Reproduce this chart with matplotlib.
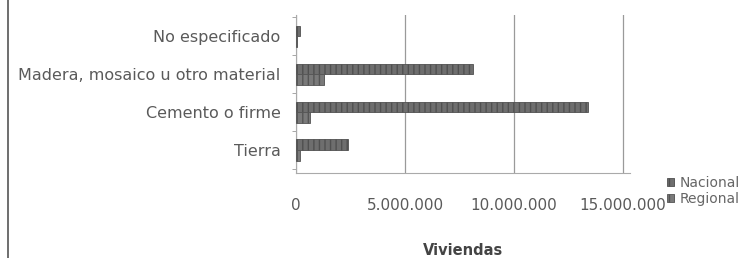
import matplotlib
matplotlib.use("Agg")
import matplotlib.pyplot as plt
import numpy as np

categories = ["Tierra", "Cemento o firme", "Madera, mosaico u otro material", "No especificado"]
nacional = [2400000, 13400000, 8100000, 200000]
regional = [200000, 650000, 1300000, 60000]
xticks = [0, 5000000, 10000000, 15000000]
xtick_labels = ["0", "5.000.000", "10.000.000", "15.000.000"]

plt.rcParams['font.family'] = ['DejaVu Sans']

fig = plt.figure(figsize=(7.55, 2.58), dpi=100)
ax = fig.add_axes([0.392, 0.33, 0.442, 0.61])

y = np.arange(len(categories))
h = 0.28
ax.barh(y + h / 2, nacional, height=h, color='#6e6e6e', edgecolor='#505050',
        hatch='|||', linewidth=0.6, label='Nacional', zorder=3)
ax.barh(y - h / 2, regional, height=h, color='#7a7a7a', edgecolor='#555555',
        hatch='|||', linewidth=0.6, label='Regional', zorder=3)

ax.set_xlim(0, 15300000)
ax.set_ylim(-0.6, 3.55)
ax.set_yticks(y)
ax.set_yticklabels(categories, fontsize=11.5, color='#5a5a5a')
ax.set_xticks(xticks)
ax.set_xticklabels(xtick_labels, fontsize=11, color='#5a5a5a')
ax.tick_params(axis='y', length=0, pad=11)
ax.tick_params(axis='x', length=0, pad=18)
ax.set_yticks(np.arange(-0.5, 4.0, 1.0), minor=True)
ax.tick_params(axis='y', which='minor', length=3, color='#999999')
ax.grid(axis='x', color='#9a9a9a', linewidth=0.9, zorder=0)
for s in ['top', 'right']:
    ax.spines[s].set_visible(False)
ax.spines['left'].set_color('#aaaaaa')
ax.spines['bottom'].set_color('#aaaaaa')
ax.set_xlabel('Viviendas', fontsize=10.5, fontweight='bold', color='#444444', labelpad=22)

fig.legend(*ax.get_legend_handles_labels(), loc='upper left',
           bbox_to_anchor=(0.883, 1 - 176 / 258), frameon=False, borderaxespad=0,
           borderpad=0, fontsize=10, labelcolor='#666666', handlelength=0.55,
           handleheight=0.55, handletextpad=0.35, labelspacing=0.15)

fig.add_artist(plt.Line2D([0.011, 0.011], [0.0, 1.0], color='#555555', linewidth=1.2,
                          transform=fig.transFigure))

fig.savefig('out.png', dpi=100, facecolor='white')
